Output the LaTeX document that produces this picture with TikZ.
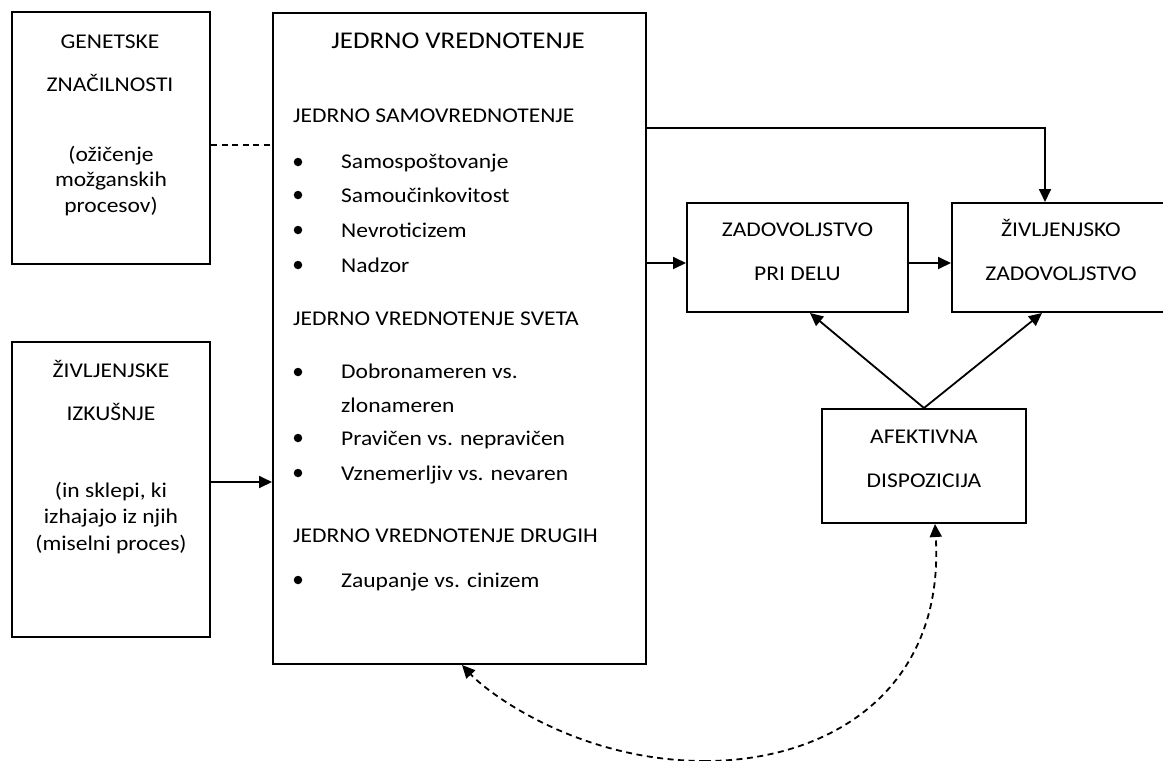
\documentclass[tikz,border=0pt]{standalone}
\usepackage{fontspec}
\setmainfont{Carlito}[FakeStretch=1.12]
\usetikzlibrary{arrows.meta,calc}
\begin{document}
\begin{tikzpicture}[x=1pt,y=-1pt,
  box/.style={draw, line width=2pt, inner sep=0pt},
  txt/.style={inner sep=0pt, font=\fontsize{21}{25.5}\selectfont},
  bigtxt/.style={inner sep=0pt, font=\fontsize{24}{28}\selectfont},
  conn/.style={line width=1.8pt},
  arr/.style={conn, -{Triangle[length=13pt,width=12pt]}},
  dashln/.style={conn, dash pattern=on 6pt off 4.5pt},
  dot/.style={circle, fill, inner sep=0pt, minimum size=8.5pt}]
\clip (0,0) rectangle (1163,761);
\fill[white] (0,0) rectangle (1163,761);
% boxes
\node[box, minimum width=198pt, minimum height=252pt] (gen) at (111,138) {};
\node[box, minimum width=198pt, minimum height=295pt] (exp) at (111,489.5) {};
\node[box, minimum width=373pt, minimum height=651pt] (core) at (459.5,338.5) {};
\node[box, minimum width=221pt, minimum height=109pt] (job) at (797.5,257.5) {};
\node[box, minimum width=220pt, minimum height=109pt] (lifesat) at (1062,257.5) {};
\node[box, minimum width=204pt, minimum height=114pt] (aff) at (924,466) {};
% texts left boxes
\node[txt, anchor=base] (genA) at (110,48) {GENETSKE};
\node[txt, anchor=base] (genB) at (110,91) {ZNAČILNOSTI};
\node[txt, anchor=base, align=center] (genC) at (111,212) {(ožičenje\\možganskih\\procesov)};
\node[txt, anchor=base] (expA) at (111,377) {ŽIVLJENJSKE};
\node[txt, anchor=base] (expB) at (111,420) {IZKUŠNJE};
\node[txt, anchor=base, align=center, font=\fontsize{21}{26.5}\selectfont] (expC) at (111,550) {(in sklepi, ki\\izhajajo iz njih\\(miselni proces)};
% core texts
\node[bigtxt, anchor=base] (coreT) at (458,48) {JEDRNO VREDNOTENJE};
\node[txt, anchor=base west] (h1) at (293,122) {JEDRNO SAMOVREDNOTENJE};
\node[txt, anchor=base west] (i1) at (341,168) {Samospoštovanje};
\node[txt, anchor=base west] (i2) at (341,202) {Samoučinkovitost};
\node[txt, anchor=base west] (i3) at (341,237) {Nevroticizem};
\node[txt, anchor=base west] (i4) at (341,272) {Nadzor};
\node[txt, anchor=base west] (h2) at (293,325) {JEDRNO VREDNOTENJE SVETA};
\node[txt, anchor=base west] (i5) at (341,378) {Dobronameren vs.};
\node[txt, anchor=base west] (i5b) at (341,412) {zlonameren};
\node[txt, anchor=base west] (i6) at (341,445) {Pravičen vs. nepravičen};
\node[txt, anchor=base west] (i7) at (341,480) {Vznemerljiv vs. nevaren};
\node[txt, anchor=base west] (h3) at (293,542) {JEDRNO VREDNOTENJE DRUGIH};
\node[txt, anchor=base west] (i8) at (341,587) {Zaupanje vs. cinizem};
\foreach \n/\yy in {d1/162,d2/195,d3/230,d4/265,d5/372,d6/438,d7/473,d8/580}
  \node[dot] (\n) at (298,\yy) {};
% right boxes text
\node[txt, anchor=base] (jobA) at (797.5,236) {ZADOVOLJSTVO};
\node[txt, anchor=base] (jobB) at (797.5,280) {PRI DELU};
\node[txt, anchor=base] (lsA) at (1061,236) {ŽIVLJENJSKO};
\node[txt, anchor=base] (lsB) at (1061,280) {ZADOVOLJSTVO};
\node[txt, anchor=base] (affA) at (924,443) {AFEKTIVNA};
\node[txt, anchor=base] (affB) at (924,487) {DISPOZICIJA};
% helper coordinates
\coordinate (yg) at (0,145);
\coordinate (ye) at (0,482);
\coordinate (yt) at (0,128);
\coordinate (ym) at (0,263);
\coordinate (xl) at (1045,0);
\coordinate (xj) at (810,0);
\coordinate (xs) at (1042,0);
\coordinate (cb) at (705,761);
% connectors
\draw[dashln] (gen.east |- yg) -- (core.west |- yg);
\draw[arr] (exp.east |- ye) -- (core.west |- ye);
\draw[arr] (core.east |- yt) -| (lifesat.north -| xl);
\draw[arr] (core.east |- ym) -- (job.west |- ym);
\draw[arr] (job.east |- ym) -- (lifesat.west |- ym);
\draw[arr] (aff.north) -- (job.south -| xj);
\draw[arr] (aff.north) -- (lifesat.south -| xs);
\draw[dashln, -{Triangle[length=13pt,width=12pt]}]
  (cb) .. controls (830,761) and (945,690) .. ([xshift=11pt]aff.south);
\draw[dashln, -{Triangle[length=13pt,width=12pt]}]
  (cb) .. controls (580,761) and (490,695) .. ([xshift=2.5pt]core.south);
\end{tikzpicture}
\end{document}
